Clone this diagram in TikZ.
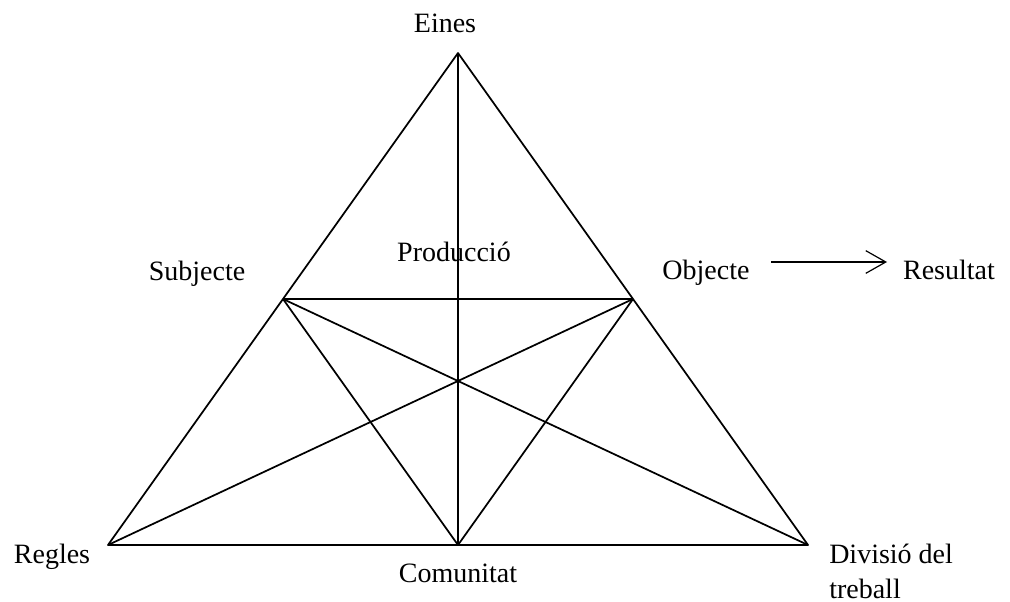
\documentclass[tikz,border=0pt]{standalone}
\usepackage{fontspec}
\setmainfont{Liberation Serif}
\usetikzlibrary{arrows.meta}
\begin{document}
\begin{tikzpicture}[x=0.75pt,y=-0.75pt,
  edge/.style={line width=1.3pt,line join=round},
  lbl/.style={inner sep=0pt,font=\fontsize{21}{25}\selectfont},
  flow/.style={line width=0.9pt,-{Straight Barb[length=15pt,width=17pt,line width=0.9pt]}}]
\useasboundingbox (0,0) rectangle (1010,602);
% vertices
\coordinate (A) at (458,53);
\coordinate (BL) at (108,545);
\coordinate (BR) at (808,545);
\coordinate (BM) at (458,545);
\coordinate (ML) at (283,299);
\coordinate (MR) at (633,299);
% triangle and inner lines
\draw[edge] (A) -- (BL) -- (BR) -- cycle;
\draw[edge] (A) -- (BM);
\draw[edge] (ML) -- (MR);
\draw[edge] (ML) -- (BM) -- (MR);
\draw[edge] (ML) -- (BR);
\draw[edge] (MR) -- (BL);
% labels
\node[lbl,anchor=base] (eines) at (445,33) {Eines};
\node[lbl,anchor=base] (prod) at (454,262) {Producció};
\node[lbl,anchor=base] (subj) at (197,281) {Subjecte};
\node[lbl,anchor=base] (obj) at (706,280) {Objecte};
\node[lbl,anchor=base] (res) at (949,280) {Resultat};
\node[lbl,anchor=base] (reg) at (52,563) {Regles};
\node[lbl,anchor=base] (com) at (458,582) {Comunitat};
\node[lbl,anchor=base west,align=left] (div) at (829,598) {Divisió del\\[1pt]treball};
% arrow
\coordinate (a1) at (771,262);
\coordinate (a2) at (887,262);
\draw[flow] (a1) -- (a2);
\end{tikzpicture}
\end{document}
